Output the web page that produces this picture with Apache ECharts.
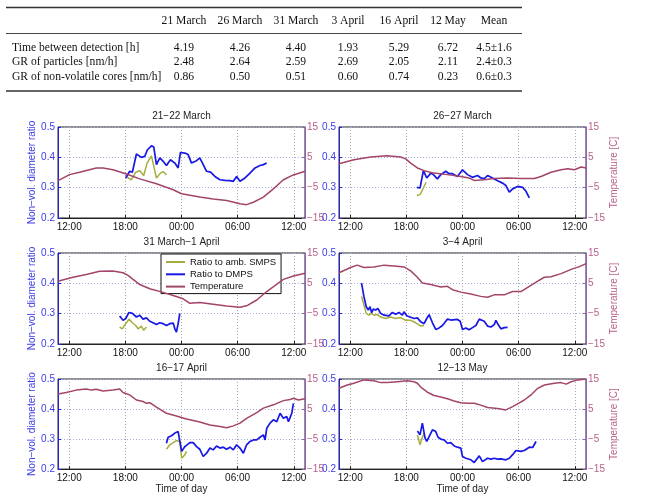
<!DOCTYPE html>
<html><head><meta charset="utf-8">
<script src="https://cdn.jsdelivr.net/npm/echarts@6/dist/echarts.min.js"></script>
<style>html,body{margin:0;padding:0;background:#fff}#c{width:654px;height:495px}</style>
</head><body><div id="c"></div>
<script>
// ---------- table data ----------
const tableColumns = ['21 March','26 March','31 March','3 April','16 April','12 May','Mean'];
const rowLabels = ['Time between detection [h]','GR of particles [nm/h]','GR of non-volatile cores [nm/h]'];
const rowTimeBetween = ['4.19','4.26','4.40','1.93','5.29','6.72','4.5±1.6'];
const rowGRparticles = ['2.48','2.64','2.59','2.69','2.05','2.11','2.4±0.3'];
const rowGRcores = ['0.86','0.50','0.51','0.60','0.74','0.23','0.6±0.3'];

// ---------- chart data (x = hours since midnight of first day) ----------
const panelTitles = ['21−22 March','26−27 March','31 March−1 April','3−4 April','16−17 April','12−13 May'];
const xTickHours = [12,18,24,30,36];
const tempTicks = [-15,-5,5,15];
const legendNames = ['Ratio to amb. SMPS','Ratio to DMPS','Temperature'];

const temp1 = [[10.8,-2.7],[12.04,-0.7],[13.11,0.05],[14.89,1.5],[15.61,1.5],[16.68,0.9],[18.11,-0.5],[19.54,-2.1],[21.32,-3.7],[23.11,-5.7],[24,-7],[25.96,-8.1],[27.39,-8.7],[28.82,-9.2],[30.25,-10.3],[30.96,-10.6],[31.68,-9.8],[32.75,-8.1],[33.82,-5.4],[34.89,-2.4],[35.96,-0.8],[37.2,0.4]];
const dmps1 = [[18.04,0.332],[18.46,0.354],[18.75,0.351],[19.18,0.411],[19.71,0.400],[20.07,0.403],[20.36,0.425],[20.79,0.438],[21.04,0.434],[21.32,0.376],[21.68,0.398],[22.04,0.387],[22.39,0.373],[22.82,0.392],[23.29,0.381],[23.64,0.365],[23.89,0.416],[24.36,0.414],[24.71,0.409],[25.07,0.381],[25.61,0.389],[25.96,0.398],[26.32,0.376],[26.68,0.354],[27.11,0.351],[27.57,0.337],[28.11,0.326],[28.64,0.324],[29.18,0.323],[29.54,0.321],[29.89,0.337],[30.25,0.321],[30.79,0.332],[31.32,0.348],[31.86,0.365],[32.39,0.373],[32.75,0.376],[33.11,0.381]];
const smps1 = [[18.04,0.337],[18.64,0.326],[19.11,0.351],[19.54,0.356],[19.96,0.340],[20.32,0.381],[20.79,0.405],[21.04,0.370],[21.32,0.332],[21.75,0.348],[22.04,0.353],[22.39,0.342]];

const temp2 = [[10.8,2.9],[12.39,4.2],[14.18,5.1],[15.96,5.5],[17.39,5.1],[17.93,4.5],[18.46,3.1],[19.18,1.5],[19.89,0.6],[20.96,-0.2],[22.39,-0.7],[23.82,-1.3],[24.71,-1.8],[25.25,-2.6],[26.32,-2.4],[27.39,-2.0],[28.82,-1.8],[30.25,-2.0],[31.68,-2.0],[32.39,-1.3],[33.46,0.1],[34.54,0.9],[35.25,1.2],[35.96,0.9],[36.68,1.8],[37.2,1.5]];
const dmps2 = [[19.11,0.301],[19.46,0.299],[19.82,0.356],[20.18,0.332],[20.61,0.348],[20.89,0.343],[21.32,0.329],[21.68,0.343],[22.21,0.354],[22.57,0.346],[22.93,0.346],[23.46,0.337],[24.0,0.359],[24.54,0.343],[25.07,0.334],[25.61,0.340],[25.96,0.332],[26.32,0.330],[26.68,0.340],[27.21,0.332],[27.75,0.323],[28.29,0.315],[28.64,0.307],[29.0,0.285],[29.36,0.296],[29.89,0.304],[30.43,0.301],[30.79,0.288],[31.14,0.266]];
const smps2 = [[19.11,0.274],[19.46,0.277],[19.82,0.299],[20.11,0.318]];

const temp3 = [[10.8,5.7],[12.39,7.0],[13.82,7.9],[15.25,9.0],[16.68,9.1],[17.75,8.5],[18.29,7.6],[18.82,6.3],[19.54,4.6],[20.61,3.2],[21.93,2.1],[23.11,1.0],[24.18,-0.1],[24.89,-1.6],[25.96,-1.3],[27.39,-1.9],[28.82,-2.5],[30.25,-2.9],[30.96,-2.4],[32.04,-0.5],[33.11,2.3],[34.89,6.3],[35.96,7.4],[37.2,8.3]];
const dmps3 = [[17.39,0.292],[17.75,0.278],[18.04,0.284],[18.39,0.304],[18.75,0.301],[19.18,0.289],[19.54,0.295],[19.89,0.282],[20.25,0.286],[20.61,0.275],[20.96,0.270],[21.32,0.264],[21.68,0.270],[22.04,0.267],[22.39,0.261],[22.75,0.267],[23.11,0.269],[23.29,0.250],[23.46,0.239],[23.64,0.267],[23.82,0.301]];
const smps3 = [[17.39,0.256],[17.68,0.250],[18.04,0.267],[18.39,0.282],[18.75,0.270],[19.11,0.261],[19.36,0.250],[19.71,0.259],[19.96,0.245],[20.25,0.256]];

const temp4 = [[10.8,8.5],[12.04,10.2],[12.75,11.0],[13.46,10.2],[14.54,10.4],[15.61,11.0],[16.68,10.7],[17.75,10.4],[18.46,9.1],[19.18,7.0],[19.71,5.1],[20.61,4.6],[21.68,3.8],[22.39,4.0],[22.93,2.9],[23.82,2.1],[24.89,1.5],[25.96,0.7],[26.68,0.4],[27.39,1.2],[28.46,1.2],[29.36,2.3],[30.25,2.3],[31.14,4.0],[32.04,5.7],[32.75,7.0],[33.46,7.2],[34.54,8.2],[35.61,9.6],[36.5,10.5],[37.2,11.5]];
const dmps4 = [[13.21,0.401],[13.46,0.357],[13.71,0.323],[13.93,0.312],[14.11,0.323],[14.29,0.303],[14.46,0.315],[14.71,0.312],[14.96,0.317],[15.25,0.301],[15.61,0.295],[16.14,0.293],[16.5,0.304],[16.86,0.298],[17.21,0.304],[17.57,0.295],[17.75,0.306],[18.04,0.293],[18.39,0.289],[18.82,0.284],[19.18,0.286],[19.54,0.273],[19.89,0.267],[20.18,0.284],[20.43,0.297],[20.79,0.270],[21.14,0.248],[21.5,0.253],[21.86,0.261],[22.21,0.275],[22.39,0.282],[22.75,0.279],[23.46,0.281],[23.75,0.275],[24.0,0.248],[24.36,0.253],[24.71,0.247],[25.07,0.254],[25.43,0.261],[25.79,0.282],[26.32,0.275],[26.68,0.259],[27.04,0.256],[27.39,0.264],[27.57,0.278],[27.75,0.267],[28.11,0.250],[28.46,0.254],[28.82,0.255]];
const smps4 = [[13.21,0.357],[13.46,0.329],[13.71,0.301],[14.0,0.295],[14.25,0.301],[14.54,0.295],[14.89,0.297],[15.25,0.289],[15.79,0.284],[16.32,0.289],[16.86,0.284],[17.39,0.287],[17.93,0.278],[18.46,0.278],[19.0,0.270],[19.54,0.259],[19.89,0.261]];

const temp5 = [[10.8,10.0],[11.68,10.5],[12.75,11.3],[13.82,11.7],[14.36,11.3],[14.89,11.6],[15.61,11.0],[16.68,11.3],[17.39,11.7],[17.75,10.5],[18.46,9.7],[19.18,8.0],[19.89,7.5],[20.25,6.9],[20.61,7.1],[21.32,5.6],[22.39,3.6],[23.46,2.7],[24.54,1.7],[25.25,1.2],[25.96,0.7],[27.04,-0.3],[28.11,-0.8],[28.82,-1.2],[29.54,-0.6],[30.25,0.3],[30.96,1.9],[32.04,3.8],[32.75,5.3],[33.82,6.4],[34.89,7.8],[35.61,8.2],[35.96,8.6],[36.5,8.0],[37.2,8.4]];
const dmps5 = [[22.39,0.286],[22.57,0.306],[22.93,0.311],[23.29,0.320],[23.64,0.325],[23.82,0.331],[24.02,0.259],[24.36,0.275],[24.89,0.288],[25.25,0.288],[25.61,0.275],[25.96,0.266],[26.32,0.242],[26.68,0.253],[27.04,0.270],[27.39,0.264],[27.75,0.277],[28.11,0.270],[28.46,0.273],[28.82,0.266],[29.18,0.273],[29.54,0.264],[29.89,0.281],[30.25,0.270],[30.61,0.253],[30.96,0.281],[31.32,0.292],[31.68,0.297],[32.04,0.297],[32.39,0.306],[32.75,0.314],[32.93,0.297],[33.11,0.336],[33.46,0.353],[33.82,0.364],[34.18,0.358],[34.54,0.386],[34.89,0.369],[35.25,0.375],[35.43,0.358],[35.61,0.358],[35.79,0.386],[35.96,0.419]];
const smps5 = [[22.39,0.266],[22.75,0.281],[23.11,0.288],[23.46,0.295],[23.82,0.292],[24.02,0.236],[24.36,0.248],[24.54,0.259]];

const temp6 = [[10.8,11.9],[11.68,13.0],[12.39,13.6],[13.46,14.7],[14.54,14.4],[15.25,13.8],[15.96,13.8],[17.04,14.1],[18.11,14.4],[18.82,14.1],[19.18,13.6],[19.54,12.3],[20.25,10.6],[20.96,9.5],[21.68,9.0],[22.39,8.4],[23.11,7.7],[23.82,7.1],[24.54,6.9],[25.25,6.9],[25.96,6.3],[26.68,5.5],[27.75,5.2],[28.64,4.7],[29.36,5.8],[29.89,6.7],[30.61,8.0],[31.32,9.7],[32.04,11.9],[32.75,13.0],[33.82,13.6],[34.54,13.8],[35.07,13.3],[35.61,14.1],[36.32,14.7],[37.2,15.0]];
const dmps6 = [[19.18,0.327],[19.46,0.314],[19.71,0.353],[19.89,0.358],[20.0,0.303],[20.18,0.292],[20.43,0.308],[20.79,0.331],[21.14,0.325],[21.39,0.306],[21.68,0.300],[22.04,0.297],[22.39,0.286],[22.75,0.288],[23.11,0.277],[23.46,0.273],[23.82,0.270],[24.0,0.242],[24.36,0.236],[24.89,0.231],[25.25,0.222],[25.79,0.244],[26.14,0.225],[26.32,0.220],[26.68,0.236],[27.04,0.233],[27.39,0.236],[27.75,0.233],[28.11,0.234],[28.64,0.231],[29.0,0.236],[29.36,0.248],[29.71,0.262],[30.25,0.259],[30.61,0.262],[31.14,0.273],[31.5,0.272],[31.86,0.292]];
const smps6 = [[19.18,0.314],[19.46,0.281],[19.71,0.306],[19.89,0.319]];

const panelTemp = [temp1,temp2,temp3,temp4,temp5,temp6];
const panelDmps = [dmps1,dmps2,dmps3,dmps4,dmps5,dmps6];
const panelSmps = [smps1,smps2,smps3,smps4,smps5,smps6];

// ---------- styling / layout ----------
const SANS = 'Liberation Sans, Arial, sans-serif';
const SERIF = 'Liberation Serif, Times New Roman, serif';
const C_BLUE = '#1717e6', C_OLIVE = '#a6ad3e', C_TEMP = '#a3446a';
const C_LEFTLBL = '#3a3ae6', C_RIGHTLBL = '#b8608a', C_RIGHTAX = '#9263b3';
const colX = [58, 339], rowY = [127, 253, 379], PW = 247, PH = 91;

const grids = [], xAxes = [], yAxes = [], series = [], graphics = [];
const hh = v => { const h = ((v % 24) + 24) % 24; return (h < 10 ? '0' : '') + h + ':00'; };

panelTitles.forEach((t, i) => {
  const col = i % 2, row = Math.floor(i / 2);
  grids.push({ left: colX[col], top: rowY[row], width: PW, height: PH, show: true,
    borderColor: '#222', borderWidth: 1, backgroundColor: 'transparent' });
  xAxes.push({ type: 'value', gridIndex: i, min: 10.8, max: 37.2, position: 'bottom',
    axisLine: { show: true, onZero: false, lineStyle: { color: '#222', width: 1 } },
    axisTick: { show: true, inside: true, length: 3, customValues: xTickHours, lineStyle: { color: '#222' } },
    axisLabel: { customValues: xTickHours, formatter: hh, color: '#111', fontSize: 10, fontFamily: SANS, margin: 4 },
    splitLine: { show: true, lineStyle: { type: [1, 2], color: '#a8a8a8', width: 1 } },
    name: row === 2 ? 'Time of day' : '', nameLocation: 'middle', nameGap: 13,
    nameTextStyle: { color: '#222', fontSize: 10, fontFamily: SANS } });
  yAxes.push({ type: 'value', gridIndex: i, position: 'left', min: 0.2, max: 0.5, interval: 0.1,
    axisLine: { show: true, onZero: false, lineStyle: { color: '#2222e0', width: 1 } },
    axisTick: { show: true, inside: true, length: 3, lineStyle: { color: '#2222e0' } },
    axisLabel: { color: C_LEFTLBL, fontSize: 10, fontFamily: SANS, margin: 3, formatter: v => v.toFixed(1) },
    splitLine: { show: true, lineStyle: { type: [1, 2], color: '#a8acd8', width: 1 } },
    name: col === 0 ? 'Non−vol. diameter ratio' : '', nameLocation: 'middle', nameGap: 19, nameRotate: 90,
    nameTextStyle: { color: C_LEFTLBL, fontSize: 10, fontFamily: SANS } });
  yAxes.push({ type: 'value', gridIndex: i, position: 'right', min: -15, max: 15,
    axisLine: { show: true, onZero: false, lineStyle: { color: C_RIGHTAX, width: 1 } },
    axisTick: { show: true, inside: true, length: 3, customValues: tempTicks, lineStyle: { color: C_RIGHTAX } },
    axisLabel: { customValues: tempTicks, color: C_RIGHTLBL, fontSize: 10, fontFamily: SANS, margin: 2,
      formatter: v => (v < 0 ? '−' + Math.abs(v) : '' + v) },
    splitLine: { show: false },
    name: col === 1 ? 'Temperature [C]' : '', nameLocation: 'middle', nameGap: 22, nameRotate: 90,
    nameTextStyle: { color: C_RIGHTLBL, fontSize: 10, fontFamily: SANS } });

  const base = { type: 'line', showSymbol: false, symbol: 'none', animation: false, xAxisIndex: i };
  series.push(Object.assign({}, base, { name: legendNames[0], yAxisIndex: 2 * i, data: panelSmps[i],
    lineStyle: { color: C_OLIVE, width: 1.5 }, itemStyle: { color: C_OLIVE }, z: 3 }));
  series.push(Object.assign({}, base, { name: legendNames[1], yAxisIndex: 2 * i, data: panelDmps[i],
    lineStyle: { color: C_BLUE, width: 1.7 }, itemStyle: { color: C_BLUE }, z: 3 }));
  series.push(Object.assign({}, base, { name: legendNames[2], yAxisIndex: 2 * i + 1, data: panelTemp[i],
    lineStyle: { color: C_TEMP, width: 1.5 }, itemStyle: { color: C_TEMP }, z: 4 }));

  graphics.push({ type: 'text', x: colX[col] + PW / 2, y: rowY[row] - 11,
    style: { text: t, fill: '#222', font: '10px ' + SANS, textAlign: 'center', align: 'center',
      textVerticalAlign: 'middle', verticalAlign: 'middle' } });
});

// ---------- table ----------
const tabColX = [184, 240, 296, 348, 399, 448, 494];
const tabLabelX = 12;
const tabHeaderY = 21, tabRowsY = [47.5, 62, 76.5];
const tabRules = [[7.5, 1.4], [33.5, 0.9], [91, 1.4]];
const tFont = '11.6px ' + SERIF;
tabRules.forEach(r => graphics.push({ type: 'line', shape: { x1: 6, y1: r[0], x2: 522, y2: r[0] },
  style: { stroke: '#333', lineWidth: r[1] } }));
tableColumns.forEach((c, j) => graphics.push({ type: 'text', x: tabColX[j], y: tabHeaderY,
  style: { text: c, fill: '#111', font: tFont, textAlign: 'center', align: 'center', textVerticalAlign: 'middle', verticalAlign: 'middle' } }));
[rowTimeBetween, rowGRparticles, rowGRcores].forEach((vals, r) => {
  graphics.push({ type: 'text', x: tabLabelX, y: tabRowsY[r],
    style: { text: rowLabels[r], fill: '#111', font: tFont, textAlign: 'left', align: 'left', textVerticalAlign: 'middle', verticalAlign: 'middle' } });
  vals.forEach((v, j) => graphics.push({ type: 'text', x: tabColX[j], y: tabRowsY[r],
    style: { text: v, fill: '#111', font: tFont, textAlign: 'center', align: 'center', textVerticalAlign: 'middle', verticalAlign: 'middle' } }));
});

const chart = echarts.init(document.getElementById('c'), null, { renderer: 'canvas' });
chart.setOption({
  animation: false,
  backgroundColor: '#fff',
  grid: grids, xAxis: xAxes, yAxis: yAxes, series: series,
  legend: { data: legendNames, orient: 'vertical', left: 161, top: 254, icon: 'rect', itemWidth: 19, itemHeight: 2,
    itemGap: 0.3, padding: [2, 5, 1, 5], backgroundColor: '#fff', borderColor: '#111', borderWidth: 1,
    borderRadius: 0, selectedMode: false,
    textStyle: { fontSize: 9.5, fontFamily: SANS, color: '#111', lineHeight: 12 } },
  graphic: graphics
});
</script></body></html>
